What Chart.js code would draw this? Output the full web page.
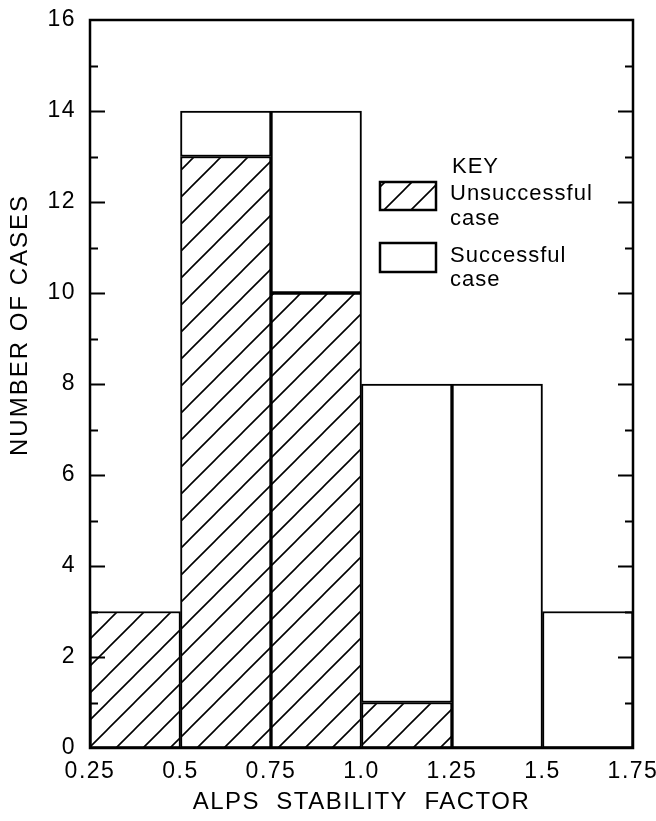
<!DOCTYPE html>
<html>
<head>
<meta charset="utf-8">
<script src="https://cdn.jsdelivr.net/npm/chart.js@4"></script>
<style>
  html, body { margin: 0; padding: 0; background: #fff; }
  #wrap { width: 656px; height: 821px; }
</style>
</head>
<body>
<div id="wrap"><canvas id="histChart" width="656" height="821"></canvas></div>
<script>
// ALPS stability factor histogram

const binCenters = [0.375, 0.625, 0.875, 1.125, 1.375, 1.625];
const unsuccessful = [3, 13, 10, 1, null, null];
const successful = [null, 1, 4, 7, 8, 3];
const xTickLabels = { '0.25': '0.25', '0.5': '0.5', '0.75': '0.75', '1': '1.0', '1.25': '1.25', '1.5': '1.5', '1.75': '1.75' };

const FONT = 'Liberation Sans, Arial, sans-serif';

// diagonal hatch for the unsuccessful cases
function makeHatch() {
    const s = 27;
    const c = document.createElement('canvas');
    c.width = s;
    c.height = s;
    const g = c.getContext('2d');
    g.fillStyle = '#fff';
    g.fillRect(0, 0, s, s);
    g.strokeStyle = '#000';
    g.lineWidth = 1.6;
    g.beginPath();
    g.moveTo(-2, s + 2); g.lineTo(s + 2, -2);
    g.moveTo(-2, 2); g.lineTo(2, -2);
    g.moveTo(s - 2, s + 2); g.lineTo(s + 2, s - 2);
    g.stroke();
    return g.createPattern(c, 'repeat');
}

const hatch = makeHatch();

// lettering look: a bit of spacing on every text drawn
const spacing = {
    id: 'spacing',
    beforeDraw(chart) {
        chart.ctx.letterSpacing = '1.5px';
    }
};

// inward ticks on both sides, long on even values, plus the frame
const inwardTicks = {
    id: 'inwardTicks',
    afterDraw(chart) {
        const ctx = chart.ctx;
        const area = chart.chartArea;
        const y = chart.scales.y;
        ctx.save();
        ctx.strokeStyle = '#000';
        ctx.lineWidth = 2;
        for (let v = 1; v < 16; v++) {
            const py = Math.round(y.getPixelForValue(v)) + 0.5;
            const len = v % 2 === 0 ? 15 : 8;
            ctx.beginPath();
            ctx.moveTo(area.left, py); ctx.lineTo(area.left + len, py);
            ctx.moveTo(area.right, py); ctx.lineTo(area.right - len, py);
            ctx.stroke();
        }
        ctx.lineWidth = 2.5;
        ctx.strokeRect(area.left, area.top, area.right - area.left, area.bottom - area.top);
        ctx.restore();
    }
};

// y title sits above the middle of the axis in the original
const yTitle = {
    id: 'yTitle',
    afterDraw(chart) {
        const ctx = chart.ctx;
        const a = chart.chartArea;
        ctx.save();
        ctx.letterSpacing = '2px';
        ctx.font = '24px ' + FONT;
        ctx.fillStyle = '#000';
        ctx.textAlign = 'center';
        ctx.textBaseline = 'middle';
        ctx.translate(20, a.top + 305);
        ctx.rotate(-Math.PI / 2);
        ctx.fillText('NUMBER OF CASES', 0, 0);
        ctx.restore();
    }
};

// hand drawn key in the upper right
const keyBox = {
    id: 'keyBox',
    afterDraw(chart) {
        const ctx = chart.ctx;
        const a = chart.chartArea;
        const bx = a.left + 290;
        const by = a.top + 162;
        ctx.save();
        ctx.letterSpacing = '1px';
        ctx.fillStyle = '#000';
        ctx.textBaseline = 'alphabetic';
        ctx.textAlign = 'left';
        ctx.font = '22px ' + FONT;
        ctx.fillText('KEY', bx + 72, by - 9);

        ctx.lineWidth = 2.5;
        ctx.fillStyle = hatch;
        ctx.fillRect(bx, by, 56, 28);
        ctx.strokeRect(bx, by, 56, 28);
        ctx.fillStyle = '#fff';
        ctx.fillRect(bx, by + 61, 56, 29);
        ctx.strokeRect(bx, by + 61, 56, 29);

        ctx.fillStyle = '#000';
        ctx.fillText('Unsuccessful', bx + 70, by + 18);
        ctx.fillText('case', bx + 70, by + 43);
        ctx.fillText('Successful', bx + 70, by + 80);
        ctx.fillText('case', bx + 70, by + 104);
        ctx.restore();
    }
};

const ctx = document.getElementById('histChart').getContext('2d');

new Chart(ctx, {
    type: 'bar',
    data: {
        labels: binCenters,
        datasets: [
            {
                label: 'Unsuccessful case',
                data: unsuccessful,
                backgroundColor: hatch,
                borderColor: '#000',
                borderWidth: 2,
                borderSkipped: false
            },
            {
                label: 'Successful case',
                data: successful,
                backgroundColor: '#fff',
                borderColor: '#000',
                borderWidth: 2,
                borderSkipped: false
            }
        ]
    },
    options: {
        responsive: false,
        animation: false,
        events: [],
        layout: { autoPadding: false, padding: { top: 20, right: 0, left: 0, bottom: 0 } },
        datasets: { bar: { barPercentage: 1, categoryPercentage: 1 } },
        plugins: {
            legend: { display: false },
            tooltip: { enabled: false }
        },
        scales: {
            x: {
                type: 'linear',
                stacked: true,
                min: 0.25,
                max: 1.75,
                offset: false,
                grid: { display: false, drawTicks: false },
                border: { display: false },
                ticks: {
                    stepSize: 0.25,
                    padding: 10,
                    color: '#000',
                    font: { family: FONT, size: 23 },
                    maxRotation: 0,
                    autoSkip: false,
                    callback: v => xTickLabels[String(v)] || ''
                },
                title: {
                    display: true,
                    text: 'ALPS  STABILITY  FACTOR',
                    color: '#000',
                    font: { family: FONT, size: 24 },
                    padding: { top: 11 }
                },
                afterFit: s => {
                    s.height = 73;
                    s.paddingLeft = 0;
                    s.paddingRight = 0;
                }
            },
            y: {
                stacked: true,
                min: 0,
                max: 16,
                grid: { display: false, drawTicks: false },
                border: { display: false },
                ticks: {
                    stepSize: 1,
                    padding: 14,
                    color: '#000',
                    font: { family: FONT, size: 23 },
                    callback: v => (v % 2 === 0 ? v : '')
                },
                title: { display: false },
                afterFit: s => {
                    s.width = 90;
                    s.paddingTop = 0;
                    s.paddingBottom = 0;
                }
            },
            y2: {
                position: 'right',
                min: 0,
                max: 16,
                grid: { display: false, drawTicks: false },
                border: { display: false },
                ticks: { display: false },
                afterFit: s => {
                    s.width = 23;
                    s.paddingTop = 0;
                    s.paddingBottom = 0;
                }
            }
        }
    },
    plugins: [spacing, inwardTicks, yTitle, keyBox]
});
</script>
</body>
</html>
